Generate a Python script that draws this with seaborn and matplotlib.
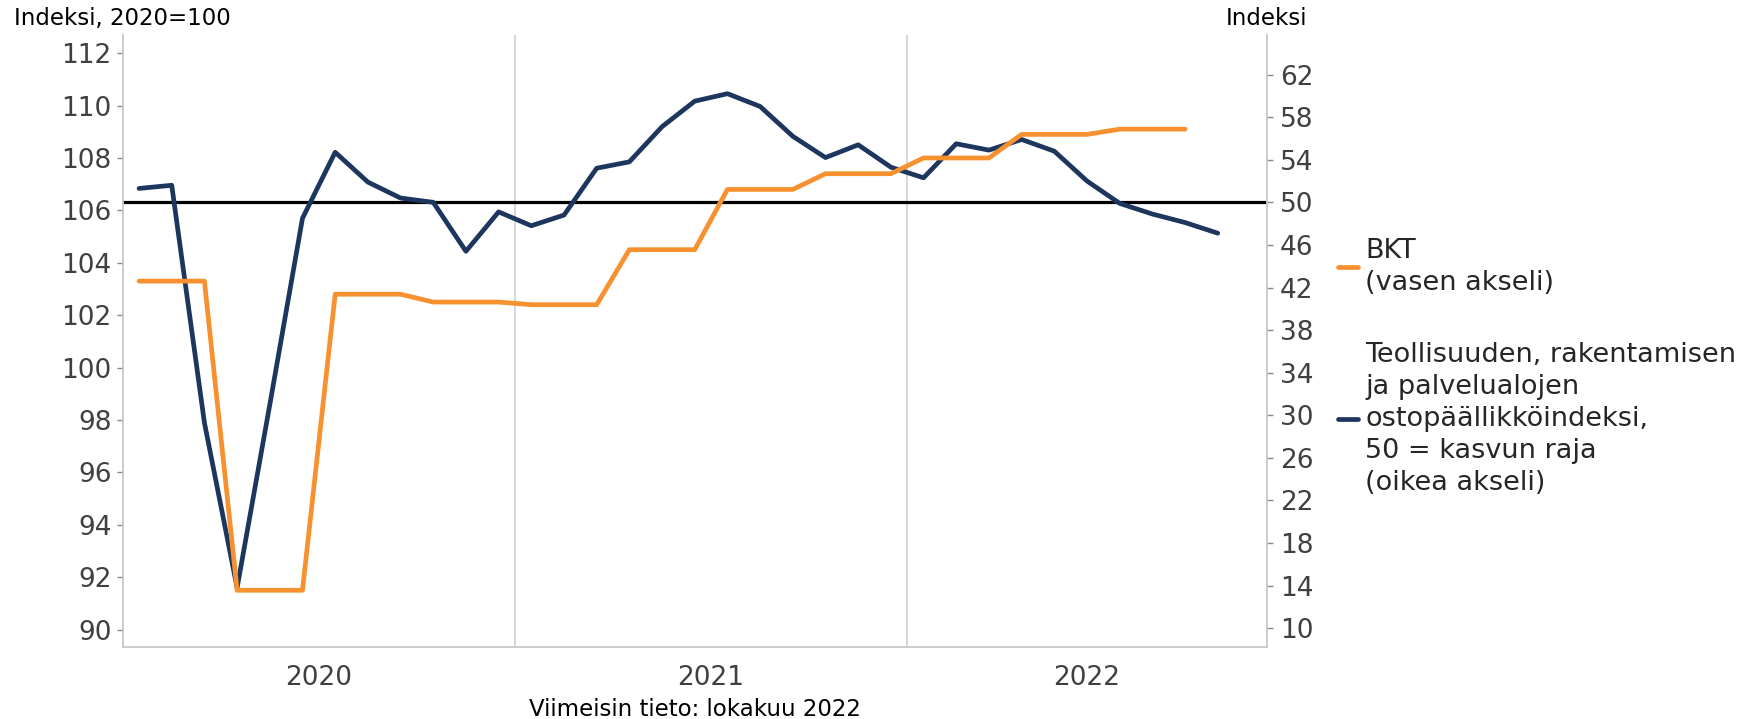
import numpy as np
import pandas as pd
import matplotlib
matplotlib.use("Agg")
import matplotlib.pyplot as plt
import seaborn as sns
from matplotlib.lines import Line2D

# data
# x-axis runs monthly from Jan 2020 to Nov 2022
months = pd.date_range("2020-01-01", "2022-11-01", freq="MS")
years = ["2020", "2021", "2022"]

# purchasing managers' index, Jan 2020 - Oct 2022 (right axis)
pmi = [51.3, 51.6, 29.3, 13.8, 31.0, 48.5, 54.7, 51.9, 50.4, 50.0, 45.4, 49.1,
       47.8, 48.8, 53.2, 53.8, 57.1, 59.5, 60.2, 59.0, 56.2, 54.2, 55.4, 53.3,
       52.3, 55.5, 54.9, 55.9, 54.8, 52.0, 49.9, 48.9, 48.1, 47.1]

# GDP index 2020=100, quarterly Q1/2020 - Q3/2022 (left axis)
gdp_quarters = ["2020Q1", "2020Q2", "2020Q3", "2020Q4", "2021Q1", "2021Q2",
                "2021Q3", "2021Q4", "2022Q1", "2022Q2", "2022Q3"]
gdp = [103.3, 91.5, 102.8, 102.5, 102.4, 104.5, 106.8, 107.4, 108.0, 108.9, 109.1]

pmi_threshold = 50

label_gdp = "BKT\n(vasen akseli)"
label_pmi = ("Teollisuuden, rakentamisen\nja palvelualojen\nostopäällikköindeksi,\n"
             "50 = kasvun raja\n(oikea akseli)")

# colours
orange = "#f7912f"
navy = "#1c365e"
grey_txt = "#404040"
grey_line = "#c8c8c8"

# frames for seaborn
df_pmi = pd.DataFrame({"x": np.arange(len(pmi)), "value": pmi})
gdp_monthly = np.repeat(gdp, 3)  # each quarter shown for its three months
df_gdp = pd.DataFrame({"x": np.arange(len(gdp_monthly)), "value": gdp_monthly})

sns.set_theme(style="white")
plt.rcParams["font.family"] = ["DejaVu Sans"]

fig = plt.figure(figsize=(17.48, 7.19), dpi=100)
fig.subplots_adjust(left=0.0702, right=0.7247, top=0.9519, bottom=0.1007)
ax = fig.add_subplot(111)
ax2 = ax.twinx()

# left axis on top so the GDP line covers the PMI line
ax.set_zorder(ax2.get_zorder() + 1)
ax.patch.set_visible(False)

n_months = len(months)
boundaries = [12 * k - 0.5 for k in range(1, len(years))]
for b in boundaries:
    ax2.axvline(b, color="#d4d4d4", lw=1.3, zorder=0)
ax2.axhline(pmi_threshold, color="black", lw=2.3, zorder=1)

sns.lineplot(data=df_pmi, x="x", y="value", ax=ax2, color=navy, lw=3.4, zorder=2)
sns.lineplot(data=df_gdp, x="x", y="value", ax=ax, color=orange, lw=3.4, zorder=3)

ax.set_xlim(-0.5, n_months - 0.5)
ax.set_ylim(89.35, 112.71)
ax2.set_ylim(8.28, 65.75)
ax.set_yticks(range(90, 113, 2))
ax2.set_yticks(range(10, 63, 4))

# year boundaries as ticks, year names centred in between
ax.set_xticks([-0.5] + boundaries)
ax.set_xticklabels([])
year_centres = []
edges = [-0.5] + boundaries + [n_months - 0.5]
for i in range(len(years)):
    year_centres.append((edges[i] + edges[i + 1]) / 2)
ax.set_xticks(year_centres, minor=True)
ax.set_xticklabels(years, minor=True)
ax.tick_params(axis="x", which="major", length=4.5, width=1.3, color="#666666", direction="out")
ax.tick_params(axis="x", which="minor", length=0, pad=13, labelsize=19, labelcolor=grey_txt)
ax.tick_params(axis="y", length=4.5, width=1, color="#888888", pad=3.5,
               labelsize=19, labelcolor=grey_txt, left=True)
ax2.tick_params(axis="y", length=4.5, width=1, color="#888888", pad=5,
                labelsize=19, labelcolor=grey_txt, right=True)

for s in ["top", "right"]:
    ax.spines[s].set_visible(False)
for s in ["left", "bottom"]:
    ax.spines[s].set_color(grey_line)
    ax.spines[s].set_linewidth(1.3)
for s in ["top", "left", "bottom"]:
    ax2.spines[s].set_visible(False)
ax2.spines["right"].set_color(grey_line)
ax2.spines["right"].set_linewidth(1.3)

ax.set_ylabel("")
ax2.set_ylabel("")
ax.set_xlabel("Viimeisin tieto: lokakuu 2022", fontsize=16.5, color="black", labelpad=5)

fig.text(0.0702, 0.9736, "Indeksi, 2020=100", ha="center", va="center", fontsize=16.5, color="black")
fig.text(0.7247, 0.9736, "Indeksi", ha="center", va="center", fontsize=16.5, color="black")

handles = [Line2D([], [], color=orange, lw=3.4), Line2D([], [], color=navy, lw=3.4)]
leg = fig.legend(handles, [label_gdp, label_pmi], loc="center left",
                 bbox_to_anchor=(1338 / 1748, 0.49), frameon=False, fontsize=19.5,
                 handlelength=0.75, handletextpad=0.25, labelspacing=1.7, borderpad=0,
                 borderaxespad=0)
for t in leg.get_texts():
    t.set_linespacing(1.3)

fig.savefig("out.png", dpi=100)
plt.close()
